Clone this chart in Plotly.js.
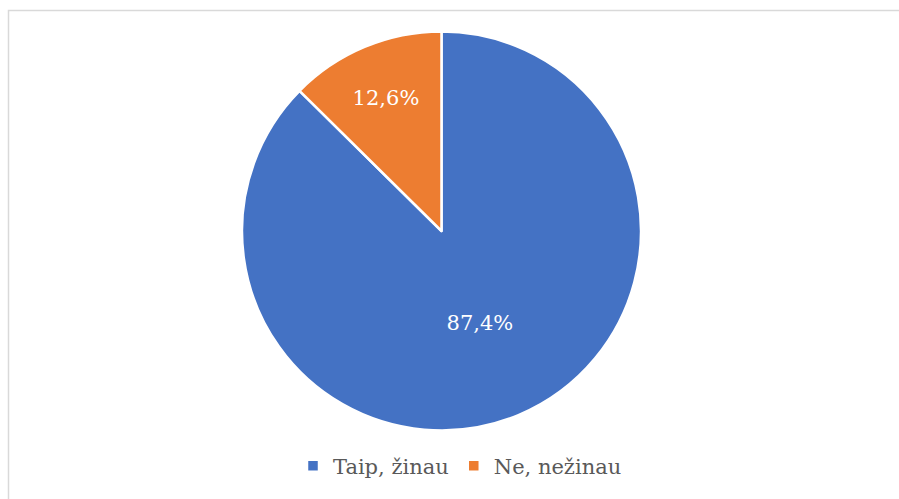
<!DOCTYPE html>
<html>
<head>
<meta charset="utf-8">
<script src="https://cdn.plot.ly/plotly-3.0.1.min.js"></script>
<style>html,body{margin:0;padding:0;background:#fff;}#chart{width:899px;height:499px;}</style>
</head>
<body>
<div id="chart"></div>
<script>
var labels = ["Taip, žinau", "Ne, nežinau"];
var values = [87.4, 12.6];
var colors = ["#4472C4", "#ED7D31"];

var W = 899, H = 499;
var FONT = "DejaVu Serif";
var trace = {
  type: "pie",
  labels: labels,
  values: values,
  sort: false,
  direction: "clockwise",
  rotation: 0,
  marker: {colors: colors, line: {color: "#ffffff", width: 2.5}},
  texttemplate: "%{percent:.1%}",
  textposition: "inside",
  insidetextorientation: "horizontal",
  textfont: {family: FONT, size: 21, color: "#ffffff"},
  hoverinfo: "none",
  domain: {x: [242 / W, 641 / W], y: [1 - 431 / H, 1 - 31 / H]}
};

var layout = {
  width: W, height: H,
  margin: {l: 0, r: 0, t: 0, b: 0},
  paper_bgcolor: "#ffffff",
  separators: ",.",
  showlegend: true,
  font: {family: FONT},
  legend: {
    orientation: "h",
    x: 460 / W, xanchor: "center",
    y: 1 - 466 / H, yanchor: "middle",
    font: {family: FONT, size: 21, color: "#595959"},
    itemwidth: 30
  },
  shapes: [{
    type: "rect", xref: "paper", yref: "paper",
    x0: 8.5 / W, x1: 1.05, y0: -0.05, y1: 1 - 10.5 / H,
    line: {color: "#d9d9d9", width: 1.5}, fillcolor: "rgba(0,0,0,0)"
  }]
};

Plotly.newPlot("chart", [trace], layout, {staticPlot: true});
</script>
</body>
</html>
